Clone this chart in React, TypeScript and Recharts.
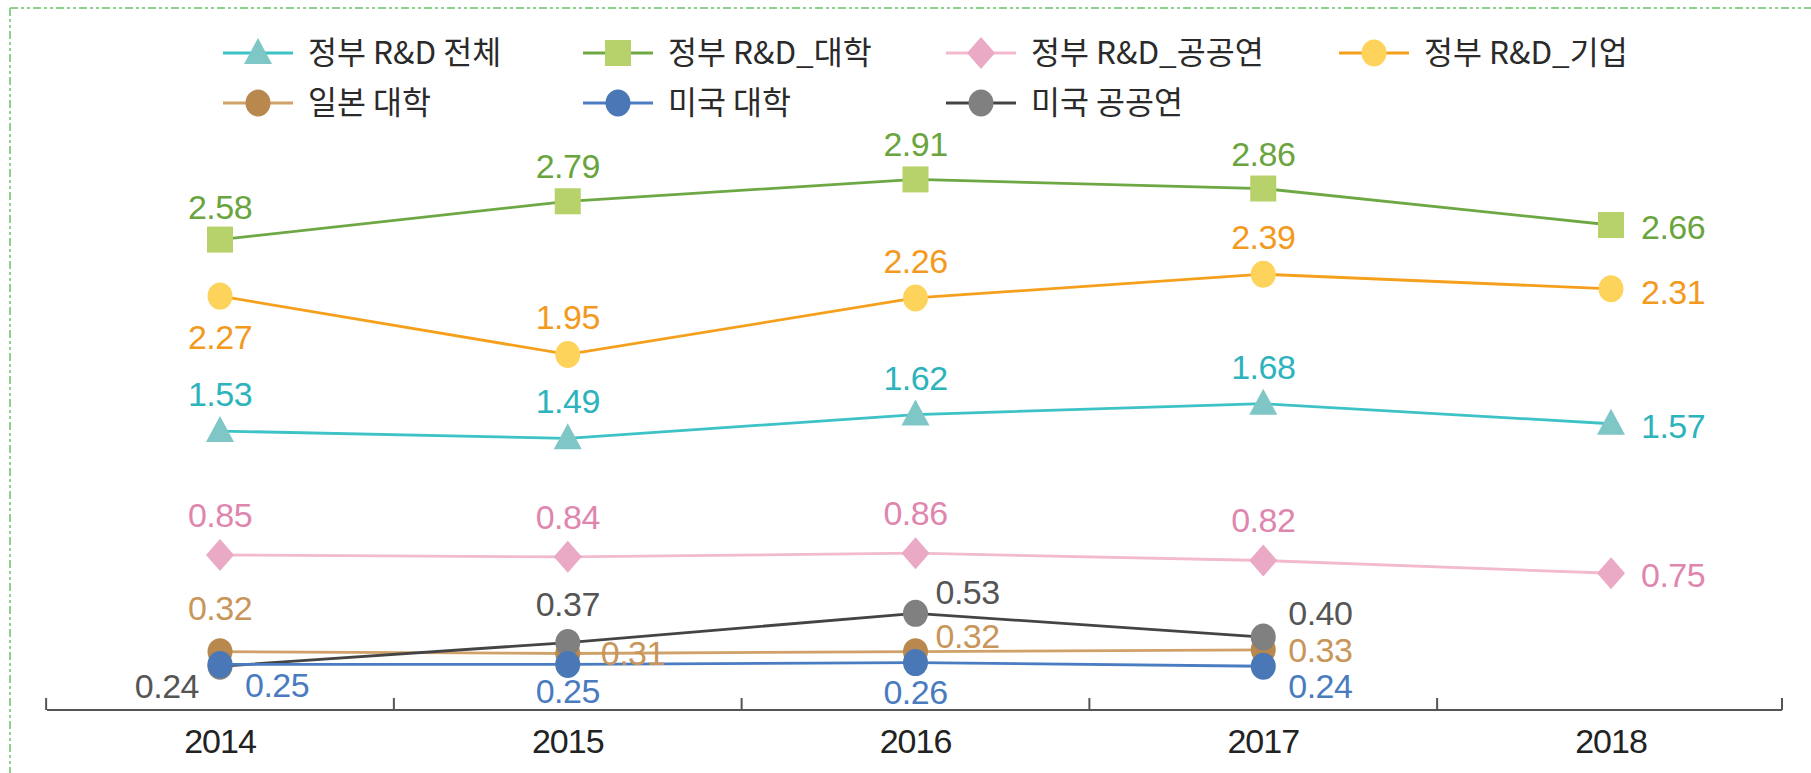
import React from 'react';
import { LineChart, Line, XAxis, YAxis, LabelList } from 'recharts';

// ---------- data ----------
const years = ['2014', '2015', '2016', '2017', '2018'];
const govTotal = [1.53, 1.49, 1.62, 1.68, 1.57];
const govUniv = [2.58, 2.79, 2.91, 2.86, 2.66];
const govPublic = [0.85, 0.84, 0.86, 0.82, 0.75];
const govCorp = [2.27, 1.95, 2.26, 2.39, 2.31];
const japanUniv = [0.32, 0.31, 0.32, 0.33, null];
const usUniv = [0.25, 0.25, 0.26, 0.24, null];
const usPublic = [0.24, 0.37, 0.53, 0.4, null];

const seriesNames = {
  govTotal: '정부 R&D 전체',
  govUniv: '정부 R&D_대학',
  govPublic: '정부 R&D_공공연',
  govCorp: '정부 R&D_기업',
  japanUniv: '일본 대학',
  usUniv: '미국 대학',
  usPublic: '미국 공공연',
};

const data = years.map((y, i) => ({
  year: y,
  govTotal: govTotal[i],
  govUniv: govUniv[i],
  govPublic: govPublic[i],
  govCorp: govCorp[i],
  japanUniv: japanUniv[i],
  usUniv: usUniv[i],
  usPublic: usPublic[i],
}));

// ---------- layout / style ----------
const W = 1811;
const H = 773;
const M = { top: 163, right: 29, bottom: 13, left: 47 };
const XAXIS_H = 50;
const PAD_L = 173;
const PAD_R = 171;
const STEP = (W - M.left - M.right - PAD_L - PAD_R) / (years.length - 1);
const AXIS_RIGHT = W - M.right;

const NUM_FONT = '"Liberation Sans", Arial, sans-serif';
const KR_FONT = '"Noto Sans CJK KR", "Noto Sans", sans-serif';

type Shape = 'triangle' | 'square' | 'diamond' | 'circle';

const style: Record<string, { line: string; marker: string; label: string; shape: Shape }> = {
  govTotal: { line: '#3dc2c6', marker: '#7fc7c7', label: '#2cb3bc', shape: 'triangle' },
  govUniv: { line: '#6ea844', marker: '#b7d16b', label: '#6aa43e', shape: 'square' },
  govPublic: { line: '#f2b9cf', marker: '#eaaac6', label: '#df86ae', shape: 'diamond' },
  govCorp: { line: '#f5a01c', marker: '#fdd35c', label: '#f39a1e', shape: 'circle' },
  japanUniv: { line: '#d0a168', marker: '#b9884f', label: '#c8955a', shape: 'circle' },
  usUniv: { line: '#4a7cc1', marker: '#4a78b6', label: '#4a7bbf', shape: 'circle' },
  usPublic: { line: '#444444', marker: '#808080', label: '#555555', shape: 'circle' },
};

// label placement per point: [anchor, dx, dy(center offset)]
type Place = [string, number, number];
const T: Place = ['middle', 0, -37];
const R: Place = ['start', 30, 2];
const placement: Record<string, Place[]> = {
  govUniv: [['middle', 0, -33], ['middle', 0, -35], ['middle', 0, -35], ['middle', 0, -35], R],
  govCorp: [['middle', 0, 41], T, T, T, ['start', 30, 3]],
  govTotal: [T, T, T, T, R],
  govPublic: [['middle', 0, -40], ['middle', 0, -40], ['middle', 0, -40], ['middle', 0, -40], R],
  japanUniv: [['middle', 0, -44], ['start', 33, 0], ['start', 20, -16], ['start', 25, 0], R],
  usUniv: [['start', 25, 21], ['middle', 0, 27], ['middle', 0, 29], ['start', 25, 20], R],
  usPublic: [['end', -21, 20], ['middle', 0, -39], ['start', 20, -21], ['start', 25, -24], R],
};

function drawShape(shape: Shape, cx: number, cy: number, fill: string, key?: any) {
  if (shape === 'triangle') {
    return <polygon key={key} points={`${cx},${cy - 15} ${cx + 14},${cy + 11} ${cx - 14},${cy + 11}`} fill={fill} />;
  }
  if (shape === 'square') {
    return <rect key={key} x={cx - 13} y={cy - 13} width={26} height={26} fill={fill} />;
  }
  if (shape === 'diamond') {
    return <polygon key={key} points={`${cx},${cy - 16} ${cx + 14},${cy} ${cx},${cy + 16} ${cx - 14},${cy}`} fill={fill} />;
  }
  return <ellipse key={key} cx={cx} cy={cy} rx={12.5} ry={13.5} fill={fill} />;
}

const makeDot = (key: string) => (props: any) => {
  const { cx, cy, index } = props;
  if (cx == null || cy == null || props.value == null || props.payload?.[key] == null) {
    return <g key={`d-${key}-${index}`} />;
  }
  return drawShape(style[key].shape, cx, cy, style[key].marker, `d-${key}-${index}`);
};

const makeLabel = (key: string) => (props: any) => {
  const { index, value } = props;
  const x = props.x ?? props.viewBox?.x;
  const y = props.y ?? props.viewBox?.y;
  if (value == null || x == null || y == null) return null;
  const [anchor, dx, dy] = placement[key][index];
  return (
    <text
      x={x + dx}
      y={y + dy + 12}
      textAnchor={anchor as any}
      fill={style[key].label}
      fontFamily={NUM_FONT}
      fontSize={34}
      letterSpacing={-0.5}
    >
      {Number(value).toFixed(2)}
    </text>
  );
};

const YearTick = (props: any) => {
  const { x, y, payload, index } = props;
  const left = x - STEP / 2;
  const right = Math.min(x + STEP / 2, AXIS_RIGHT);
  return (
    <g>
      <line x1={left} x2={left} y1={y} y2={y - 12} stroke="#555" strokeWidth={2} />
      {index === years.length - 1 && (
        <line x1={right} x2={right} y1={y} y2={y - 12} stroke="#555" strokeWidth={2} />
      )}
      <text
        x={x}
        y={y + 43}
        textAnchor="middle"
        fill="#222"
        fontFamily={NUM_FONT}
        fontSize={34}
        letterSpacing={-1}
      >
        {payload.value}
      </text>
    </g>
  );
};

const legendRows: { key: string; cx: number }[][] = [
  [
    { key: 'govTotal', cx: 258 },
    { key: 'govUniv', cx: 618 },
    { key: 'govPublic', cx: 981 },
    { key: 'govCorp', cx: 1374 },
  ],
  [
    { key: 'japanUniv', cx: 258 },
    { key: 'usUniv', cx: 618 },
    { key: 'usPublic', cx: 981 },
  ],
];
const legendRowY = [53, 103];

const Legendbox = () => (
  <svg width={W} height={140} style={{ position: 'absolute', left: 0, top: 0 }}>
    {legendRows.map((row, r) =>
      row.map((it) => {
        const cy = legendRowY[r];
        const s = style[it.key];
        return (
          <g key={it.key}>
            <line x1={it.cx - 35} x2={it.cx + 35} y1={cy} y2={cy} stroke={s.line} strokeWidth={3} />
            {drawShape(s.shape, it.cx, cy, s.marker)}
            <text
              x={it.cx + 50}
              y={cy + 11}
              fill="#2a2a2a"
              fontFamily={KR_FONT}
              fontSize={31.5}
            >
              {(seriesNames as any)[it.key]}
            </text>
          </g>
        );
      })
    )}
  </svg>
);

const order = ['govPublic', 'govTotal', 'govCorp', 'govUniv', 'japanUniv', 'usPublic', 'usUniv'];

export default function App() {
  return (
    <div style={{ position: 'absolute', left: 0, top: 0, width: W, height: H, background: '#fff', overflow: 'hidden' }}>
      <svg width={W} height={H} style={{ position: 'absolute', left: 0, top: 0 }}>
        <line x1={10} y1={8} x2={W} y2={8} stroke="#8fd08f" strokeWidth={2} strokeDasharray="8 3 3 3 3 3" />
        <line x1={10} y1={8} x2={10} y2={H} stroke="#8fd08f" strokeWidth={2} strokeDasharray="8 3 3 3 3 3" />
      </svg>
      <Legendbox />
      <div style={{ position: 'absolute', left: 0, top: 0 }}>
        <LineChart width={W} height={H} data={data} margin={M}>
          <XAxis
            dataKey="year"
            height={XAXIS_H}
            padding={{ left: PAD_L, right: PAD_R }}
            axisLine={{ stroke: '#555', strokeWidth: 2 }}
            tickLine={false}
            tickSize={0}
            tickMargin={0}
            tick={<YearTick />}
            interval={0}
          />
          <YAxis hide width={0} domain={[0, 3]} type="number" />
          {order.map((key) => (
            <Line
              key={key}
              type="linear"
              dataKey={key}
              name={(seriesNames as any)[key]}
              stroke={style[key].line}
              strokeWidth={2.8}
              dot={makeDot(key)}
              activeDot={false}
              isAnimationActive={false}
              connectNulls={false}
            >
              <LabelList dataKey={key} content={makeLabel(key)} />
            </Line>
          ))}
        </LineChart>
      </div>
    </div>
  );
}
